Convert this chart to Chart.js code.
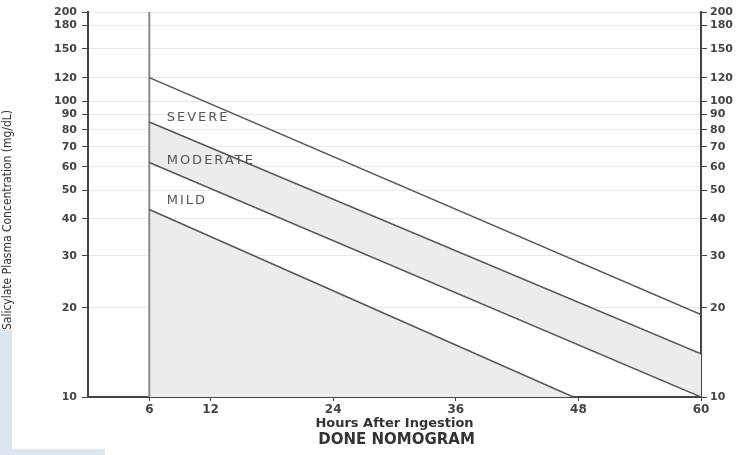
<!DOCTYPE html>
<html>
<head>
<meta charset="utf-8">
<script src="https://cdn.jsdelivr.net/npm/chart.js@4.4.0/dist/chart.umd.min.js"></script>
<style>
  html, body { margin: 0; padding: 0; background: #fff; }
  #wrap { width: 740px; height: 455px; position: relative; }
</style>
</head>
<body>
<div id="wrap"><canvas id="nomogram"></canvas></div>
<script>
// Done nomogram, lines (hours, mg/dL)
const hourTicks = [6, 12, 24, 36, 48, 60];
const concTicks = [10, 20, 30, 40, 50, 60, 70, 80, 90, 100, 120, 150, 180, 200];

const severeTop = [{ x: 6, y: 120 }, { x: 60, y: 19 }];
const severeLow = [{ x: 6, y: 85 }, { x: 60, y: 14 }];
const moderateLow = [{ x: 6, y: 62 }, { x: 60, y: 10 }];
const mildLow = [{ x: 6, y: 43 }, { x: 47.5, y: 10 }];
const sixHourLine = [{ x: 6, y: 10 }, { x: 6, y: 200 }];

const zoneNames = ['SEVERE', 'MODERATE', 'MILD'];
const zoneLabelAt = [{ x: 7.7, y: 88 }, { x: 7.7, y: 63 }, { x: 7.7, y: 46 }];

const yTitle = 'Salicylate Plasma Concentration (mg/dL)';
const chartName = 'DONE NOMOGRAM';

const lineColor = '#555';
const shade = '#ececec';
const axisColor = '#444';

// fond blanc + la bande bleue en bas a gauche
const backdrop = {
    id: 'backdrop',
    beforeDraw(chart) {
        const c = chart.ctx;
        c.save();
        c.fillStyle = '#fff';
        c.fillRect(0, 0, chart.width, chart.height);
        c.fillStyle = '#dde6ec';
        c.fillRect(0, 330, 12, 125);
        c.fillRect(0, 449, 105, 6);
        c.restore();
    }
};

// textes: zones, titre vertical, nom du nomogramme
const texts = {
    id: 'texts',
    afterDatasetsDraw(chart) {
        const c = chart.ctx;
        const xs = chart.scales.x, ys = chart.scales.y;
        const area = chart.chartArea;
        c.save();
        c.font = '13px "DejaVu Sans"';
        c.letterSpacing = '2px';
        c.fillStyle = '#555';
        c.textBaseline = 'middle';
        zoneNames.forEach((name, i) => {
            c.fillText(name, xs.getPixelForValue(zoneLabelAt[i].x), ys.getPixelForValue(zoneLabelAt[i].y));
        });
        c.restore();

        c.save();
        c.fillStyle = '#333';
        c.font = '12px "DejaVu Sans Condensed"';
        c.textAlign = 'center';
        c.textBaseline = 'middle';
        c.translate(8, 220);
        c.rotate(-Math.PI / 2);
        c.fillText(yTitle, 0, 0);
        c.restore();

        c.save();
        c.fillStyle = '#333';
        c.font = 'bold 15px "DejaVu Sans"';
        c.textAlign = 'center';
        c.textBaseline = 'middle';
        c.fillText(chartName, (area.left + area.right) / 2 + 2, 440);
        c.restore();
    }
};

const tickFont = { family: 'DejaVu Sans', size: 11, weight: 'bold' };

function yAxis(position, width, withGrid) {
    return {
        type: 'logarithmic',
        position: position,
        min: 10,
        max: 200,
        afterBuildTicks: s => { s.ticks = concTicks.map(v => ({ value: v })); },
        afterFit: s => { s.width = width; },
        ticks: { callback: v => String(v), color: axisColor, font: tickFont, padding: position === 'left' ? 5 : 3, autoSkip: false },
        grid: {
            drawOnChartArea: withGrid,
            color: '#e9e9e9',
            tickColor: axisColor,
            tickLength: 6
        },
        border: { color: axisColor, width: 2 }
    };
}

new Chart(document.getElementById('nomogram'), {
    type: 'line',
    data: {
        datasets: [
            { data: severeTop, borderColor: lineColor, borderWidth: 1.5, fill: false },
            { data: severeLow, borderColor: lineColor, borderWidth: 1.5, fill: { target: 2 }, backgroundColor: shade },
            { data: moderateLow, borderColor: lineColor, borderWidth: 1.5, fill: false },
            { data: mildLow, borderColor: lineColor, borderWidth: 1.5, fill: 'start', backgroundColor: shade },
            { data: sixHourLine, borderColor: '#8a8a8a', borderWidth: 2, fill: false }
        ]
    },
    options: {
        responsive: true,
        maintainAspectRatio: false,
        animation: false,
        elements: { point: { radius: 0 }, line: { tension: 0 } },
        layout: { padding: { top: 12, right: 0, left: 0, bottom: 0 } },
        plugins: {
            legend: { display: false },
            tooltip: { enabled: false },
            filler: { drawTime: 'beforeDatasetsDraw' }
        },
        scales: {
            x: {
                type: 'linear',
                min: 0,
                max: 60,
                afterBuildTicks: s => { s.ticks = hourTicks.map(v => ({ value: v })); },
                afterFit: s => { s.height = 58; },
                ticks: { color: axisColor, font: { family: 'DejaVu Sans', size: 12, weight: 'bold' }, padding: 2, autoSkip: false, maxRotation: 0 },
                grid: { drawOnChartArea: false, tickColor: axisColor, tickLength: 4 },
                border: { color: axisColor, width: 2 },
                title: {
                    display: true,
                    text: 'Hours After Ingestion',
                    color: '#333',
                    font: { family: 'DejaVu Sans', size: 13, weight: 'bold' },
                    padding: { top: 0, bottom: 24 }
                }
            },
            y: yAxis('left', 88, true),
            y2: yAxis('right', 39, false)
        }
    },
    plugins: [backdrop, texts]
});
</script>
</body>
</html>
